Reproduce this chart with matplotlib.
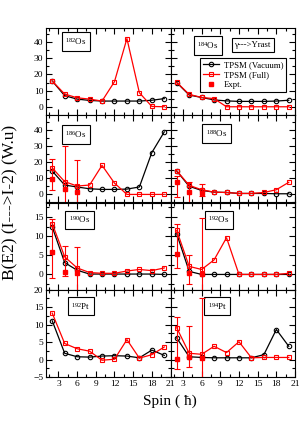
import matplotlib
matplotlib.use("Agg")
import matplotlib.pyplot as plt
from matplotlib.ticker import MultipleLocator
from matplotlib.lines import Line2D
import numpy as np

plt.rcParams['font.family'] = ['Liberation Serif', 'DejaVu Serif']
plt.rcParams['mathtext.fontset'] = 'custom'
plt.rcParams['mathtext.rm'] = 'Liberation Serif'
plt.rcParams['mathtext.it'] = 'Liberation Serif:italic'

spin = [2, 4, 6, 8, 10, 12, 14, 16, 18, 20]

nuclei = ["182", "184", "186", "188", "190", "192", "192", "194"]
elements = ["Os", "Os", "Os", "Os", "Os", "Os", "Pt", "Pt"]

vac_182os = [16.0, 7.0, 4.9, 4.1, 3.7, 3.7, 3.7, 3.7, 4.2, 5.2]
full_182os = [16.0, 8.0, 5.7, 4.9, 3.7, 15.6, 42.0, 8.8, 0.4, 0.2]
vac_184os = [15.0, 7.4, 5.9, 4.4, 3.8, 3.5, 3.5, 3.5, 3.7, 4.2]
full_184os = [15.2, 7.8, 5.9, 5.2, 0.2, 0.2, 0.2, 0.2, 0.2, 0.2]
vac_186os = [14.5, 5.8, 4.6, 3.5, 3.1, 3.1, 3.3, 4.6, 25.9, 38.7]
full_186os = [16.4, 7.9, 5.2, 5.8, 18.0, 7.0, 0.0, 0.0, 0.0, 0.0]
vac_188os = [14.5, 5.0, 2.5, 1.4, 1.2, 0.6, 0.6, 0.6, 0.4, 0.4]
full_188os = [14.7, 5.6, 2.9, 1.4, 1.2, 0.6, 0.6, 1.2, 2.9, 7.5]
vac_190os = [12.4, 3.1, 1.1, 0.1, 0.1, 0.1, 0.1, 0.1, 0.1, 0.0]
full_190os = [13.3, 4.6, 1.7, 0.5, 0.3, 0.3, 0.9, 1.3, 1.0, 1.7]
vac_192os = [10.6, 0.8, 0.0, 0.0, 0.0, 0.0, 0.0, 0.0, 0.0, 0.0]
full_192os = [11.5, 2.1, 1.3, 3.8, 9.6, 0.0, 0.0, 0.0, 0.0, 0.3]
vac_192pt = [11.1, 1.8, 0.8, 0.7, 1.0, 1.1, 1.0, 0.5, 2.7, 1.2]
full_192pt = [13.3, 4.6, 3.1, 2.4, -0.2, 0.1, 5.7, 0.4, 1.4, 3.6]
vac_194pt = [6.2, 0.8, 0.6, 0.5, 0.5, 0.5, 0.5, 1.4, 8.6, 3.8]
full_194pt = [9.1, 1.8, 1.5, 3.8, 2.0, 5.1, 0.5, 0.6, 0.6, 0.6]

vac_all = [vac_182os, vac_184os, vac_186os, vac_188os, vac_190os, vac_192os, vac_192pt, vac_194pt]
full_all = [full_182os, full_184os, full_186os, full_188os, full_190os, full_192os, full_192pt, full_194pt]

expt_spin = [2, 4, 6]
expt_val = {2: [9.3, 3.1, 1.4], 3: [7.6, 1.7, 0.6], 4: [5.9, 0.7, 0.5],
            5: [5.4, 0.4, 0.0], 7: [0.3, 0.8, 0.5]}
expt_low = {2: [2.6, -30.0, -18.0], 3: [-1.6, -8.0, -1.2], 4: [-1.0, -0.3, -8.0],
            5: [1.7, -2.4, -15.0], 7: [-2.6, -2.1, -10.0]}
expt_high = {2: [22.1, 30.2, 21.0], 3: [11.2, 7.5, 6.2], 4: [14.6, 7.4, 7.3],
             5: [13.3, 5.0, 14.8], 7: [12.1, 9.7, 17.5]}

row_ylim = [(-5, 48.5), (-5, 49), (-4, 18.8), (-5, 20)]
row_major = [10, 10, 5, 5]
row_minor = [5, 5, 2.5, 2.5]

label_pos = [(0.24, 0.845), (0.30, 0.80), (0.24, 0.78), (0.37, 0.79),
             (0.27, 0.80), (0.39, 0.80), (0.28, 0.81), (0.375, 0.81)]

fig = plt.figure(figsize=(2.99, 4.23), dpi=100)
gs = fig.add_gridspec(4, 2, left=46/299, right=295/299, top=1-28/423, bottom=1-377/423,
                      hspace=0, wspace=0)

for i in range(8):
    r, c = divmod(i, 2)
    ax = fig.add_subplot(gs[r, c])
    ax.plot(spin, vac_all[i], '-o', color='black', lw=0.9, ms=3.2, mfc='none', mew=0.8, zorder=3)
    ax.plot(spin, full_all[i], '-s', color='red', lw=0.9, ms=3.2, mfc='none', mew=0.8, zorder=4)
    if i in expt_val:
        v = np.array(expt_val[i]); lo = np.array(expt_low[i]); hi = np.array(expt_high[i])
        ax.errorbar(expt_spin, v, yerr=[v - lo, hi - v], fmt='s', color='red', ms=3.0,
                    elinewidth=0.8, capsize=2.5, capthick=0.8, zorder=5)
    ax.set_xlim(1, 21)
    ax.set_ylim(*row_ylim[r])
    ax.xaxis.set_major_locator(MultipleLocator(3))
    ax.xaxis.set_minor_locator(MultipleLocator(1.5))
    ax.yaxis.set_major_locator(MultipleLocator(row_major[r]))
    ax.yaxis.set_minor_locator(MultipleLocator(row_minor[r]))
    ax.tick_params(which='both', direction='in', top=True, right=True, labelsize=6.8, pad=2)
    ax.tick_params(which='major', length=4, width=0.8)
    ax.tick_params(which='minor', length=2, width=0.8)
    for s in ax.spines.values():
        s.set_linewidth(0.8)
    if c == 1:
        ax.tick_params(labelleft=False)
    if r < 3:
        ax.tick_params(labelbottom=False)
    ax.text(label_pos[i][0], label_pos[i][1], r"$^{%s}$%s" % (nuclei[i], elements[i]),
            transform=ax.transAxes, ha='center', va='center', fontsize=6.5,
            bbox=dict(boxstyle='square,pad=0.4', fc='white', ec='black', lw=0.8))
    if i == 1:
        ax.text(0.664, 0.805, "γ--->Yrast", transform=ax.transAxes, ha='center', va='center',
                fontsize=6.3,
                bbox=dict(boxstyle='square,pad=0.35', fc='white', ec='black', lw=0.8))
        handles = [Line2D([], [], color='black', marker='o', mfc='none', lw=0.9, ms=3.2, mew=0.8),
                   Line2D([], [], color='red', marker='s', mfc='none', lw=0.9, ms=3.2, mew=0.8),
                   Line2D([], [], color='red', marker='s', lw=0, ms=3.0)]
        leg = ax.legend(handles, ["TPSM (Vacuum)", "TPSM (Full)", "Expt."], loc='upper left',
                        bbox_to_anchor=(0.24, 0.655), fontsize=6.3, frameon=True, fancybox=False,
                        edgecolor='black', framealpha=1, handlelength=1.8, borderpad=0.35,
                        labelspacing=0.2, handletextpad=0.5, borderaxespad=0)
        leg.get_frame().set_linewidth(0.8)

fig.text(0.035, 1 - 202/423, "B(E2) (I--->I-2) (W.u)", rotation=90,
         ha='center', va='center', fontsize=12.5)
fig.text(170/299, 1 - 401/423, "Spin ( ħ)", ha='center', va='center', fontsize=11)

fig.savefig("out.png", dpi=100)
